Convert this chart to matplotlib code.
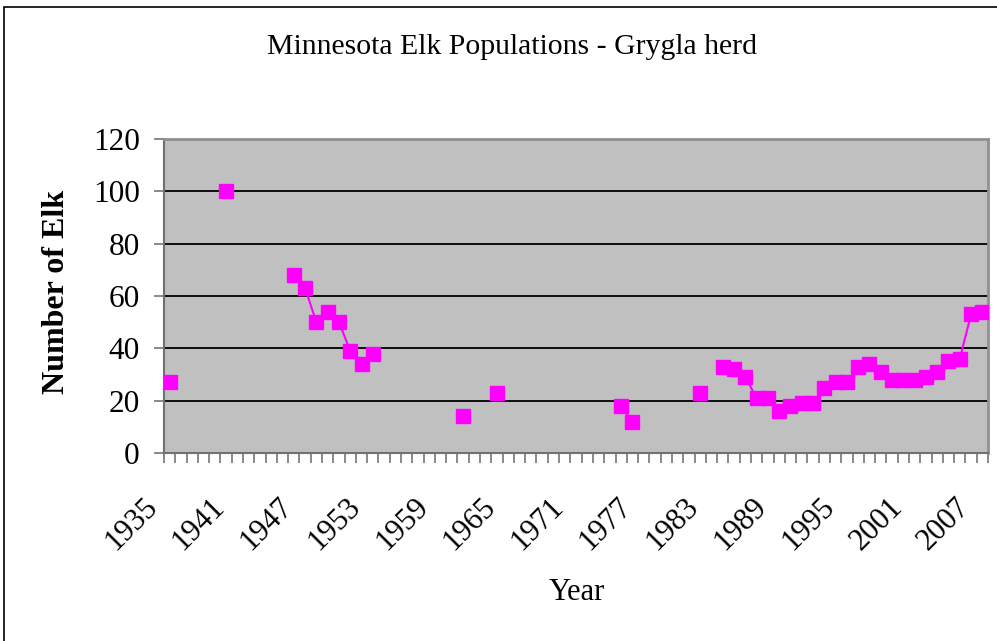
import numpy as np
import matplotlib
matplotlib.use("Agg")
import matplotlib.pyplot as plt
from matplotlib.patches import Rectangle
from matplotlib.transforms import ScaledTranslation

years = list(range(1935, 2008))
obs_years = [1935, 1940, 1946, 1947, 1948, 1949, 1950, 1951, 1952, 1953,
             1961, 1964, 1975, 1976, 1982, 1984, 1985, 1986, 1987, 1988,
             1989, 1990, 1991, 1992, 1993, 1994, 1995, 1996, 1997, 1998,
             1999, 2000, 2001, 2002, 2003, 2004, 2005, 2006, 2007]
obs_elk = [27, 100, 68, 63, 50, 54, 50, 39, 34, 38,
           14, 23, 18, 12, 23, 33, 32, 29, 21, 21,
           16, 18, 19, 19, 25, 27, 27, 33, 34, 31,
           28, 28, 28, 29, 31, 35, 36, 53, 54]
label_years = list(range(1935, 2008, 6))
y_ticks = [0, 20, 40, 60, 80, 100, 120]

elk = np.full(len(years), np.nan)
for yr, v in zip(obs_years, obs_elk):
    elk[years.index(yr)] = v

plt.rcParams['font.family'] = ['Liberation Serif', 'DejaVu Serif']

fig = plt.figure(figsize=(9.97, 6.41), dpi=100)
W, H = 997, 641
ax = fig.add_axes([164 / W, 1 - 453 / H, (988 - 164) / W, (453 - 139) / H])
ax.set_facecolor('#C0C0C0')

x = np.arange(len(years))
ax.plot(x, elk, color='#FF00FF', lw=1.5, marker='s', markersize=9.7,
        markerfacecolor='#FF00FF', markeredgecolor='#FF00FF', zorder=3)

ax.set_xlim(-0.5, len(years) - 0.5)
ax.set_ylim(0, 120)
ax.set_yticks(y_ticks)
ax.set_yticklabels([str(v) for v in y_ticks], fontsize=22.5)
ax.yaxis.grid(True, color='black', lw=1.3)
ax.set_axisbelow(True)

lab_pos = [years.index(v) for v in label_years]
ax.set_xticks(lab_pos)
ax.set_xticklabels([str(v) for v in label_years], fontsize=22, rotation=45,
                   ha='right', va='top', rotation_mode='anchor')
ax.set_xticks(np.arange(len(years) + 1) - 0.5, minor=True)
ax.tick_params(axis='x', which='major', length=0, pad=14)
ax.tick_params(axis='x', which='minor', length=7, width=1.3, color='#808080', direction='out')
ax.tick_params(axis='y', which='major', length=7, width=1.3, color='#808080', direction='out', pad=10.5)

offset = ScaledTranslation(-27 / 100, -20 / 100, fig.dpi_scale_trans)
for lab in ax.get_xticklabels():
    lab.set_transform(lab.get_transform() + offset)

for s in ['left', 'bottom']:
    ax.spines[s].set_color('#707070')
    ax.spines[s].set_linewidth(1.5)
for s in ['right', 'top']:
    ax.spines[s].set_color('#909090')
    ax.spines[s].set_linewidth(2)

fig.text(57 / W, 1 - 292 / H, 'Number of Elk', fontsize=23, fontweight='bold',
         rotation=90, ha='center', va='center')
fig.text(577 / W, 1 - 592 / H, 'Year', fontsize=22, ha='center', va='center')

fig.text(512 / W, 1 - 47 / H, 'Minnesota Elk Populations - Grygla herd',
         fontsize=21.4, ha='center', va='center')

fig.patches.append(Rectangle((4 / W, -0.05), 1.2, 1 - 7 / H + 0.05,
                             transform=fig.transFigure, fill=False,
                             edgecolor='black', lw=1.2))

fig.savefig('out.png', dpi=100)
